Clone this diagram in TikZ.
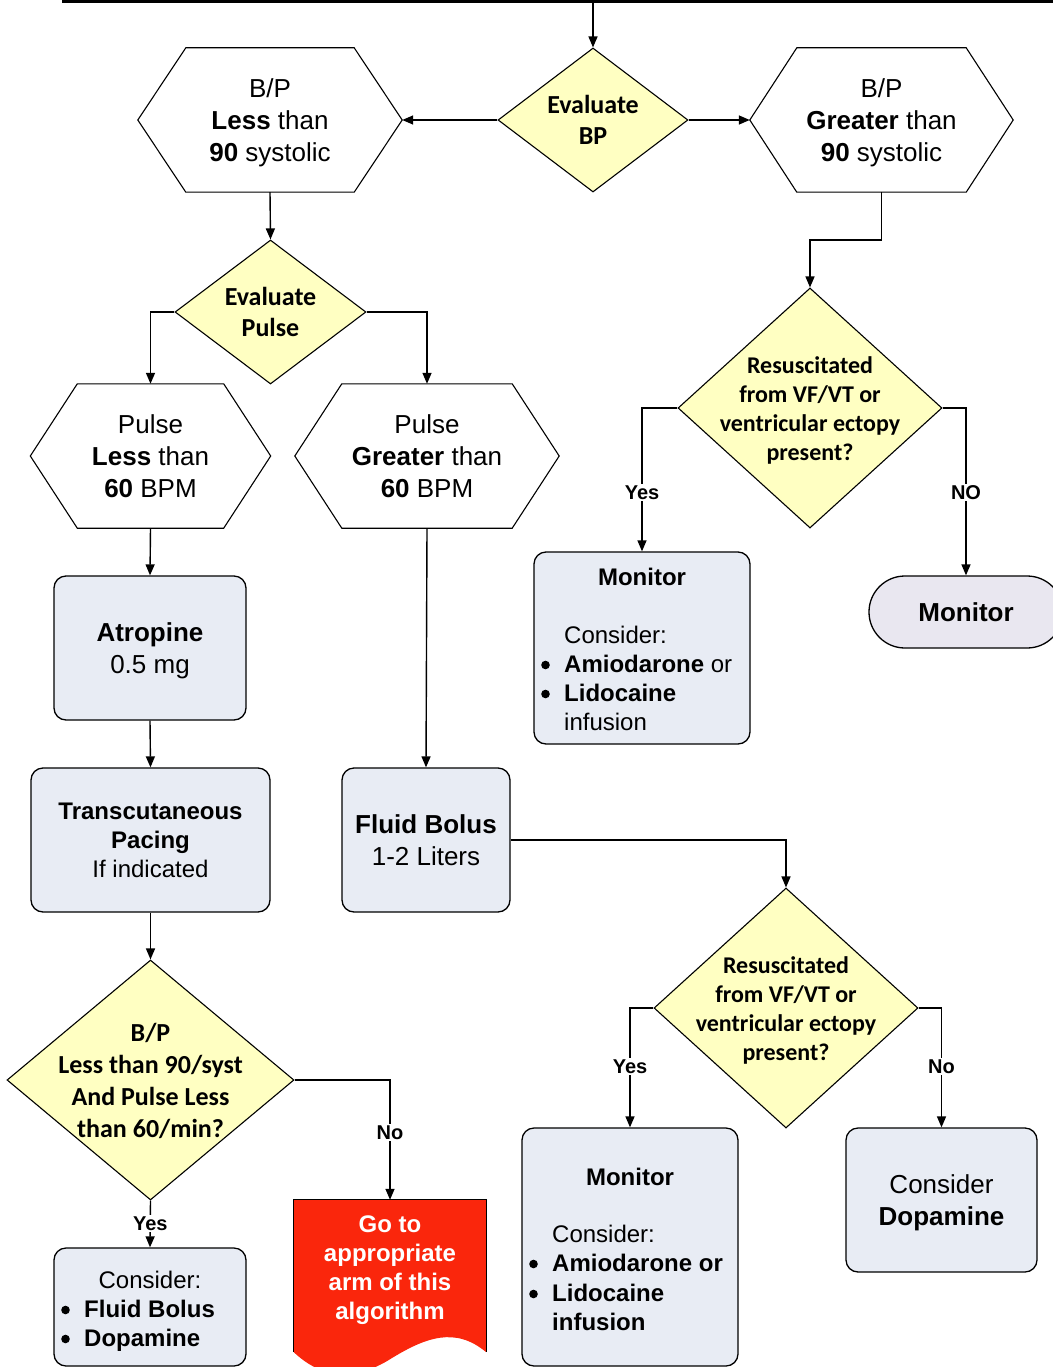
\documentclass[tikz,border=0pt]{standalone}
\usepackage{fontspec}
\setmainfont{Liberation Sans}
\newfontfamily\calfont{Carlito}
\usetikzlibrary{arrows.meta,shapes.geometric,calc}
\definecolor{dfill}{RGB}{255,255,194}
\definecolor{bfill}{RGB}{232,236,244}
\definecolor{tfill}{RGB}{233,231,240}
\definecolor{rfill}{RGB}{250,38,12}
\newcommand\hexshape[2]{%
  \draw[line width=1.1pt,fill=white] (#1.west) -- ($(#1.north west)+(#2,0)$) -- ($(#1.north east)+(-#2,0)$) -- (#1.east) -- ($(#1.south east)+(-#2,0)$) -- ($(#1.south west)+(#2,0)$) -- cycle;}
\newcommand\bulat[1]{\fill ($(#1.base west)+(-18.5,-7)$) circle (4.3pt);}
\begin{document}
\begin{tikzpicture}[x=1pt,y=-1pt,
  arr/.style={line width=1.4pt,-{Triangle[length=11pt,width=9pt]}},
  dia/.style={diamond,draw,fill=dfill,inner sep=0pt,line width=1.1pt},
  hexb/.style={rectangle,inner sep=0pt},
  rbox/.style={rectangle,rounded corners=12pt,draw,fill=bfill,inner sep=0pt,line width=1.3pt},
  big/.style={font=\fontsize{26}{32}\selectfont,align=center,inner sep=0pt},
  med/.style={font=\fontsize{24}{29}\selectfont,align=center,inner sep=0pt},
  medl/.style={font=\fontsize{24}{29}\selectfont,inner sep=0pt,anchor=base west},
  medc/.style={font=\fontsize{24}{29}\selectfont,inner sep=0pt,anchor=base},
  dtxt/.style={font=\calfont\bfseries\fontsize{26}{31}\selectfont,align=center,inner sep=0pt},
  rtxt/.style={font=\calfont\bfseries\fontsize{24}{29}\selectfont,align=center,inner sep=0pt},
  lab/.style={fill=white,font=\bfseries\fontsize{20}{24}\selectfont,inner sep=1.5pt}
]
\useasboundingbox (0,0) rectangle (1052,1367);

% top line
\coordinate (tl) at (62,1.5);
\coordinate (tr) at (1060,1.5);
\coordinate (tm) at (593,1.5);
\draw[line width=3pt] (tl) -- (tr);

% Evaluate BP
\node[dia,minimum width=190pt,minimum height=144pt] (dBP) at (593,120) {};
\node[dtxt] (dBPt) at (dBP) {Evaluate\\BP};

% hexagons top
\node[hexb,minimum width=264pt,minimum height=144pt] (hL) at (270,120) {};
\hexshape{hL}{48}
\node[big] (hLt) at ($(hL)+(0,3)$) {B/P\\\textbf{Less} than\\\textbf{90} systolic};

\node[hexb,minimum width=263pt,minimum height=144pt] (hR) at (881.5,120) {};
\hexshape{hR}{47}
\node[big] (hRt) at ($(hR)+(0,3)$) {B/P\\\textbf{Greater} than\\\textbf{90} systolic};

% Evaluate Pulse
\node[dia,minimum width=191pt,minimum height=144pt] (dP) at (270.5,312) {};
\node[dtxt] (dPt) at (dP) {Evaluate\\Pulse};

% pulse hexagons
\node[hexb,minimum width=240pt,minimum height=144pt] (hPL) at (150.5,456) {};
\hexshape{hPL}{47}
\node[big] (hPLt) at (hPL) {Pulse\\\textbf{Less} than\\\textbf{60} BPM};

\node[hexb,minimum width=264pt,minimum height=144pt] (hPG) at (427,456) {};
\hexshape{hPG}{47}
\node[big] (hPGt) at (hPG) {Pulse\\\textbf{Greater} than\\\textbf{60} BPM};

% Atropine
\node[rbox,minimum width=192pt,minimum height=144pt] (atro) at (150,648) {};
\node[big] (atrot) at ($(atro)+(0,3)$) {\textbf{Atropine}\\0.5 mg};

% Transcutaneous
\node[rbox,minimum width=239pt,minimum height=144pt] (trans) at (150.5,840) {};
\node[med] (transt) at (trans) {\textbf{Transcutaneous}\\\textbf{Pacing}\\If indicated};

% Fluid bolus
\node[rbox,minimum width=168pt,minimum height=144pt] (fluid) at (426,840) {};
\node[big] (fluidt) at (fluid) {\textbf{Fluid Bolus}\\1-2 Liters};

% BP diamond lower left
\node[dia,minimum width=287pt,minimum height=240pt] (dB) at (150.5,1080) {};
\node[dtxt,font=\calfont\bfseries\fontsize{26}{32}\selectfont] (dBt) at ($(dB)+(0,1)$) {B/P\\Less than 90/syst\\And Pulse Less\\than 60/min?};

% Consider box bottom left
\node[rbox,minimum width=192pt,minimum height=118pt] (cons) at (150,1307) {};
\node[medc] (cons1) at (150,1288) {Consider:};
\node[medl] (cons2) at (84,1317) {\textbf{Fluid Bolus}};
\node[medl] (cons3) at (84,1346) {\textbf{Dopamine}};
\bulat{cons2}
\bulat{cons3}

% red document
\node[hexb,minimum width=192pt,minimum height=152pt] (doc) at (390,1276) {};
\fill[rfill] (doc.north west) -- (doc.north east) -- (doc.south east)
  .. controls (455,1326) and (425,1338) .. (392,1358)
  .. controls (350,1385) and (318,1375) .. (doc.south west) -- cycle;
\draw[line width=1.1pt] (doc.south west) -- (doc.north west) -- (doc.north east) -- (doc.south east);
\node[font=\bfseries\fontsize{24}{29}\selectfont,text=white,align=center,inner sep=0pt] (doct) at (390,1270) {Go to\\appropriate\\arm of this\\algorithm};

% Upper resuscitated diamond
\node[dia,minimum width=264pt,minimum height=240pt] (dR1) at (810,408) {};
\node[rtxt] (dR1t) at ($(dR1)+(0,2)$) {Resuscitated\\from VF/VT or\\ventricular ectopy\\present?};

% Monitor box upper
\node[rbox,minimum width=216pt,minimum height=192pt] (mon1) at (642,648) {};
\node[medc,font=\bfseries\fontsize{24}{29}\selectfont] (mon1a) at (642,585) {Monitor};
\node[medl] (mon1b) at (564,643) {Consider:};
\node[medl] (mon1c) at (564,672) {\textbf{Amiodarone} or};
\node[medl] (mon1d) at (564,701) {\textbf{Lidocaine}};
\node[medl] (mon1e) at (564,730) {infusion};
\bulat{mon1c}
\bulat{mon1d}

% Monitor terminal
\node[rectangle,rounded corners=35.9pt,draw,fill=tfill,line width=1.3pt,minimum width=194pt,minimum height=72pt,inner sep=0pt] (term) at (966,612) {};
\node[font=\bfseries\fontsize{26}{32}\selectfont,inner sep=0pt] (termt) at (term) {Monitor};

% Lower resuscitated diamond
\node[dia,minimum width=264pt,minimum height=240pt] (dR2) at (786,1008) {};
\node[rtxt] (dR2t) at ($(dR2)+(0,2)$) {Resuscitated\\from VF/VT or\\ventricular ectopy\\present?};

% Monitor box lower
\node[rbox,minimum width=216pt,minimum height=238pt] (mon2) at (630,1247) {};
\node[medc,font=\bfseries\fontsize{24}{29}\selectfont] (mon2a) at (630,1185) {Monitor};
\node[medl] (mon2b) at (552,1242) {Consider:};
\node[medl] (mon2c) at (552,1271) {\textbf{Amiodarone or}};
\node[medl] (mon2d) at (552,1301) {\textbf{Lidocaine}};
\node[medl] (mon2e) at (552,1330) {\textbf{infusion}};
\bulat{mon2c}
\bulat{mon2d}

% Consider Dopamine
\node[rbox,minimum width=191pt,minimum height=144pt] (dop) at (941.5,1200) {};
\node[big] (dopt) at ($(dop)+(0,3)$) {Consider\\\textbf{Dopamine}};

% connectors
\coordinate (bend) at (810,240);
\draw[arr] (tm) -- (dBP.north);
\draw[arr] (dBP.west) -- (hL.east);
\draw[arr] (dBP.east) -- (hR.west);
\draw[arr] (hL.south) -- (dP.north);
\draw[arr] (dP.west) -| (hPL.north);
\draw[arr] (dP.east) -| (hPG.north);
\draw[arr] (hPL.south) -- (atro.north);
\draw[arr] (atro.south) -- (trans.north);
\draw[arr] (trans.south) -- (dB.north);
\draw[arr] (dB.east) -| node[lab,pos=0.72]{No} (doc.north);
\draw[arr] (dB.south) -- node[lab]{Yes} (cons.north);
\draw[arr] (hPG.south) -- (fluid.north);
\draw[arr] (fluid.east) -| (dR2.north);
\draw[arr] (dR2.west) -| node[lab,pos=0.745]{Yes} (mon2.north);
\draw[arr] (dR2.east) -| node[lab,pos=0.745]{No} (dop.north);
\draw[arr] (hR.south) |- (bend) -- (dR1.north);
\draw[arr] (dR1.west) -| node[lab,pos=0.795]{Yes} (mon1.north);
\draw[arr] (dR1.east) -| node[lab,pos=0.753]{NO} (term.north);
\end{tikzpicture}
\end{document}
